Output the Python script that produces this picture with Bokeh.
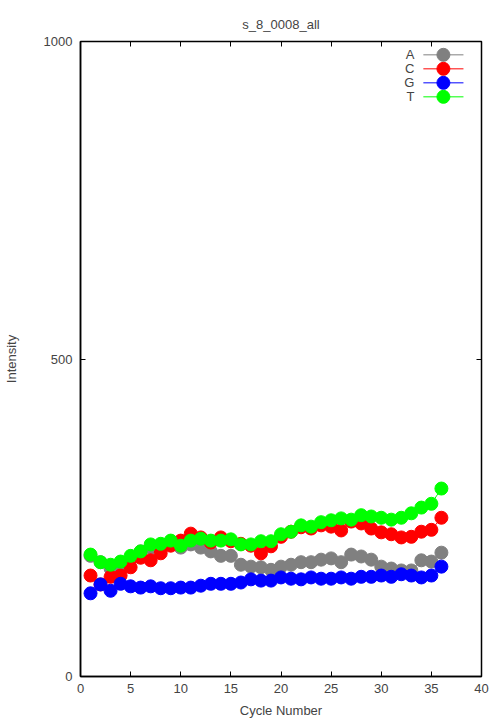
from bokeh.plotting import figure
from bokeh.models import (Range1d, LinearAxis, FixedTicker, Label)
from bokeh.embed import file_html
from bokeh.resources import INLINE

title = "s_8_0008_all"
cycles = list(range(1, 37))
A = [190, 180, 170, 168, 185, 197, 203, 207, 210, 203, 208, 203, 197, 190, 190, 176,
     173, 172, 168, 173, 176, 180, 180, 184, 186, 180, 192, 189, 184, 173, 170, 167,
     167, 183, 181, 195]
C = [159, 145, 157, 159, 172, 187, 183, 194, 206, 214, 225, 219, 211, 219, 213, 209,
     206, 194, 205, 220, 228, 235, 233, 238, 236, 230, 244, 241, 233, 227, 224, 219,
     220, 228, 231, 250]
G = [131, 145, 135, 146, 142, 140, 142, 139, 139, 140, 140, 143, 146, 146, 146, 148,
     153, 151, 151, 156, 154, 153, 156, 154, 154, 156, 154, 157, 157, 159, 157, 161,
     159, 156, 159, 173]
T = [192, 180, 176, 181, 190, 197, 208, 209, 214, 206, 214, 217, 214, 214, 216, 208,
     208, 213, 213, 224, 228, 238, 236, 243, 246, 249, 247, 254, 252, 250, 247, 250,
     257, 266, 272, 296]
names = ["A", "C", "G", "T"]
colors = ["#808080", "#ff0000", "#0000ff", "#00ff00"]
values = [A, C, G, T]
x_ticks = [0, 5, 10, 15, 20, 25, 30, 35, 40]
y_ticks = [0, 500, 1000]

FONT = "Liberation Sans"

# legend key layout (in axis units)
KEY_X0, KEY_X1, KEY_TEXT_X = 34.2, 38.2, 33.3
KEY_Y0, KEY_DY = 979.0, 22.05

p = figure(frame_width=401, frame_height=635, output_backend="svg", toolbar_location=None,
           x_range=Range1d(0, 40), y_range=Range1d(0, 1000),
           min_border_left=74, min_border_right=15, min_border_top=41, min_border_bottom=42)
p.title.text = title
p.title.align = "center"
p.title.text_font = FONT
p.title.text_font_size = "13px"
p.title.text_font_style = "normal"
p.title.standoff = 20
p.xgrid.visible = False
p.ygrid.visible = False
p.outline_line_color = "black"
p.outline_line_width = 1.5

for ax, ticks in ((p.xaxis[0], x_ticks), (p.yaxis[0], y_ticks)):
    ax.ticker = FixedTicker(ticks=ticks)
    ax.major_tick_in = 5
    ax.major_tick_out = 0
    ax.minor_tick_line_color = None
    ax.major_label_text_font = FONT
    ax.major_label_text_font_size = "13px"
    ax.axis_label_text_font = FONT
    ax.axis_label_text_font_size = "13px"
    ax.axis_label_text_font_style = "normal"
    ax.axis_line_color = "black"
    ax.axis_line_width = 1.5
    ax.major_tick_line_color = "black"

p.xaxis.axis_label = "Cycle Number"
p.yaxis.axis_label = "Intensity"
p.xaxis.major_label_standoff = 7
p.xaxis.axis_label_standoff = 7
p.yaxis.major_label_standoff = 8
p.yaxis.axis_label_standoff = 22

top = LinearAxis(ticker=FixedTicker(ticks=x_ticks), major_tick_in=5, major_tick_out=0,
                 minor_tick_line_color=None,
                 major_label_overrides={t: "" for t in x_ticks},
                 axis_line_color=None, major_label_standoff=0)
right = LinearAxis(ticker=FixedTicker(ticks=y_ticks), major_tick_in=5, major_tick_out=0,
                   minor_tick_line_color=None,
                   major_label_overrides={t: "" for t in y_ticks},
                   axis_line_color=None, major_label_standoff=0)
p.add_layout(top, "above")
p.add_layout(right, "right")

for name, vals, col in zip(names, values, colors):
    p.line(cycles, vals, line_color=col, line_width=1)
    p.scatter(cycles, vals, size=13, fill_color=col, line_color=col)

# legend keys (gnuplot style: label left of sample)
for i, (name, col) in enumerate(zip(names, colors)):
    ky = KEY_Y0 - i * KEY_DY
    p.line([KEY_X0, KEY_X1], [ky, ky], line_color=col, line_width=1)
    p.scatter([(KEY_X0 + KEY_X1) / 2], [ky], size=13, fill_color=col, line_color=col)
    p.add_layout(Label(x=KEY_TEXT_X, y=ky, text=name, text_align="right",
                       text_baseline="middle", text_font=FONT, text_font_size="13px"))

open("out.html", "w").write(file_html(p, INLINE))
